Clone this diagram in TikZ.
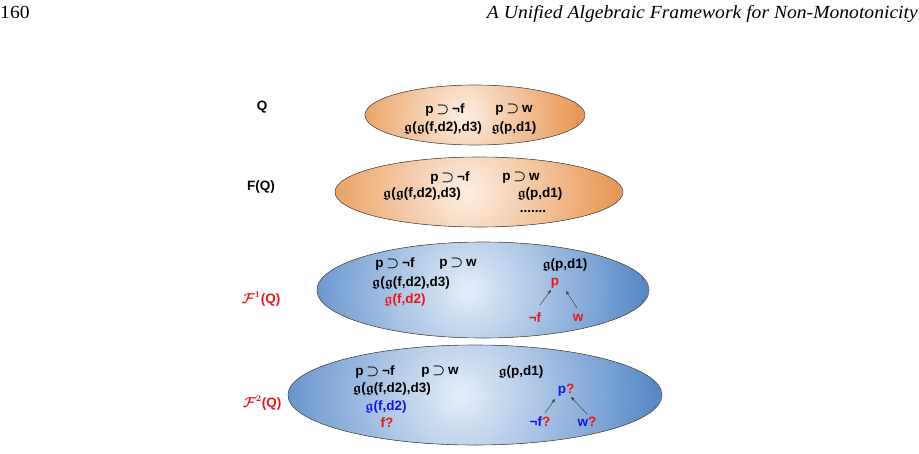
\documentclass[tikz,border=0pt]{standalone}
\usepackage{amssymb}
\usepackage{fontspec}
\setmainfont{Liberation Sans}
\newfontfamily\hdrfont[FakeStretch=1.06]{Liberation Serif}
\usetikzlibrary{shapes.geometric,arrows.meta}
\definecolor{orin}{RGB}{253,238,226}
\definecolor{orout}{RGB}{232,152,84}
\definecolor{blin}{RGB}{228,238,249}
\definecolor{blout}{RGB}{88,138,200}
\definecolor{myred}{RGB}{240,20,20}
\definecolor{myblue}{RGB}{20,20,230}
\newcommand\gfr{\ensuremath{\mathfrak{g}}}
\newcommand\spz{\ensuremath{\,\supset\,}}
\newcommand\scrF{\ensuremath{\mathcal{F}}}
\tikzset{
  ell/.style={ellipse, draw=black!65, line width=0.6pt, inner sep=0pt},
  orell/.style={ell, path picture={
      \fill[orout] (path picture bounding box.south west) rectangle (path picture bounding box.north east);
      \fill[inner color=orin, outer color=orout]
      ([xshift=-12pt]path picture bounding box.center) circle (#1);}},
  blell/.style={ell, path picture={
      \fill[blout] (path picture bounding box.south west) rectangle (path picture bounding box.north east);
      \fill[inner color=blin, outer color=blout]
      ([xshift=-15pt]path picture bounding box.center) circle (#1);}},
  lbl/.style={font=\fontsize{13.5}{15}\selectfont\bfseries\boldmath, inner sep=0pt},
  arr/.style={-{Stealth[length=4pt,width=3pt]}, line width=0.4pt, black!80},
}
\begin{document}
\begin{tikzpicture}[x=1pt,y=-1pt]
\useasboundingbox (0,0) rectangle (919,453);
% header
\node[anchor=base west, inner sep=0pt, font=\hdrfont\fontsize{18.5}{22}\selectfont] (pg) at (0,18) {160};
\node[anchor=base east, inner sep=0pt, font=\hdrfont\itshape\fontsize{18.5}{22}\selectfont] (ttl) at (918,18) {A Unified Algebraic Framework for Non-Monotonicity};
% ellipses
\node[orell=115pt, minimum width=220pt, minimum height=60pt] (e1) at (475,115) {};
\node[orell=150pt, minimum width=288pt, minimum height=70pt] (e2) at (479,192) {};
\node[blell=175pt, minimum width=332pt, minimum height=96pt] (e3) at (483,290) {};
\node[blell=195pt, minimum width=374pt, minimum height=100pt] (e4) at (475,395) {};
% left labels
\node[lbl] (lq) at (262,107) {Q};
\node[lbl] (lfq) at (261,187) {F(Q)};
\node[lbl, text=myred] (lf1) at (261,299) {{\fontsize{15}{17}\selectfont\scrF}$^{1}$(Q)};
\node[lbl, text=myred] (lf2) at (262,403) {{\fontsize{15}{17}\selectfont\scrF}$^{2}$(Q)};
% ellipse 1
\node[lbl] (a1) at (445,110) {p\spz¬f};
\node[lbl] (a2) at (514,110) {p\spz w};
\node[lbl] (a3) at (443,128) {\gfr(\gfr(f,d2),d3)};
\node[lbl] (a4) at (514,128) {\gfr(p,d1)};
% ellipse 2
\node[lbl] (b1) at (450,178) {p\spz¬f};
\node[lbl] (b2) at (521,178) {p\spz w};
\node[lbl] (b3) at (422,194) {\gfr(\gfr(f,d2),d3)};
\node[lbl] (b4) at (540,194) {\gfr(p,d1)};
\node[lbl] (b5) at (533,211) {.......};
% ellipse 3
\node[lbl] (c1) at (395,264) {p\spz¬f};
\node[lbl] (c2) at (458,264) {p\spz w};
\node[lbl] (c3) at (411,283) {\gfr(\gfr(f,d2),d3)};
\node[lbl, text=myred] (c4) at (405,300) {\gfr(f,d2)};
\node[lbl] (c5) at (565,265) {\gfr(p,d1)};
\node[lbl, text=myred] (cp) at (555,283) {p};
\node[lbl, text=myred] (cnf) at (535,318) {¬f};
\node[lbl, text=myred] (cw) at (578,318) {w};
\draw[arr] ([shift={(5,-13)}]cnf.center) -- ([shift={(-4,7)}]cp.center);
\draw[arr] ([shift={(-1,-10)}]cw.center) -- ([shift={(11,8)}]cp.center);
% ellipse 4
\node[lbl] (d1) at (375,372) {p\spz¬f};
\node[lbl] (d2) at (440,372) {p\spz w};
\node[lbl] (d3) at (521,372) {\gfr(p,d1)};
\node[lbl] (d4) at (392,389) {\gfr(\gfr(f,d2),d3)};
\node[lbl, text=myblue] (d5) at (386,407) {\gfr(f,d2)};
\node[lbl, text=myred] (d6) at (387,423) {f?};
\node[lbl] (dp) at (566,390) {\textcolor{myblue}{p}\textcolor{myred}{?}};
\node[lbl] (dnf) at (540,422) {\textcolor{myblue}{¬f}\textcolor{myred}{?}};
\node[lbl] (dw) at (587,422) {\textcolor{myblue}{w}\textcolor{myred}{?}};
\draw[arr] ([shift={(5,-9)}]dnf.center) -- ([shift={(-11,9)}]dp.center);
\draw[arr] ([shift={(0,-8)}]dw.center) -- ([shift={(5,7)}]dp.center);
\end{tikzpicture}
\end{document}
